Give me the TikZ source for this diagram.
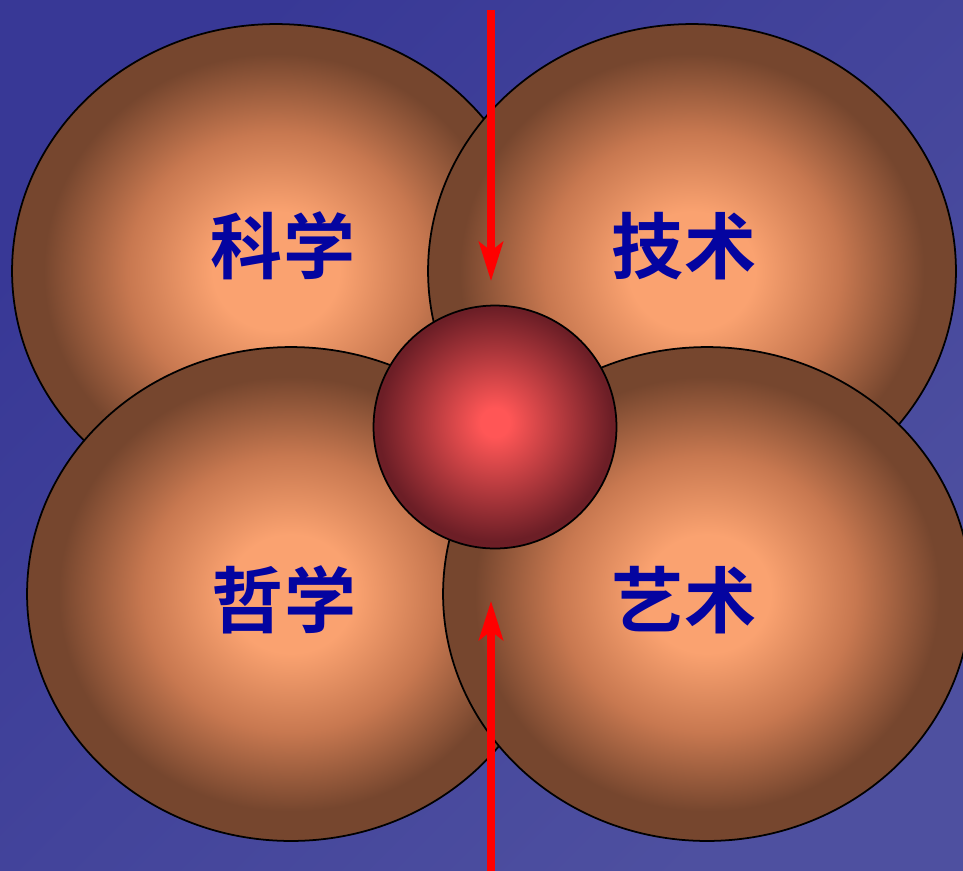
\documentclass[tikz,border=0pt]{standalone}
\usepackage{fontspec}
\newfontfamily\cjk[BoldFont={Noto Sans CJK SC Bold}]{Noto Sans CJK SC}
\usepackage{tikz}
\usetikzlibrary{shapes.geometric, arrows.meta, positioning, calc}
\usepackage{xcolor}
\definecolor{bgdark}{RGB}{56,56,150}
\definecolor{bglight}{RGB}{78,80,160}
\definecolor{lobelight}{RGB}{250,162,112}
\definecolor{lobemid}{RGB}{200,120,80}
\definecolor{lobedark}{RGB}{118,70,46}
\definecolor{corelight}{RGB}{255,86,86}
\definecolor{coredark}{RGB}{108,30,38}
\definecolor{labelblue}{RGB}{4,4,160}
\pgfdeclareradialshading{lobeshade}{\pgfpoint{0bp}{0bp}}{color(0bp)=(lobelight); color(6bp)=(lobelight); color(14bp)=(lobemid); color(22bp)=(lobedark); color(50bp)=(lobedark)}
\pgfdeclareradialshading{coreshade}{\pgfpoint{0bp}{1bp}}{color(0bp)=(corelight); color(3bp)=(corelight); color(24bp)=(coredark); color(50bp)=(coredark)}
\tikzstyle{lobe} = [ellipse, draw=black, line width=1pt, shading=lobeshade, minimum width=10.56cm, minimum height=9.88cm, inner sep=0pt]
\tikzstyle{core} = [circle, draw=black, line width=1pt, shading=coreshade, minimum size=4.86cm, inner sep=0pt]
\tikzstyle{field} = [text=labelblue, font=\cjk\bfseries\fontsize{41}{41}\selectfont]
\tikzstyle{push} = [line width=4pt, red, -{Stealth[length=0.78cm, width=0.48cm, inset=0.18cm]}]

\begin{document}
\begin{tikzpicture}[x=0.02cm, y=-0.02cm]
    % background
    \shade[top color=bgdark, bottom color=bglight, shading angle=45] (0,0) rectangle (963,870);
    \useasboundingbox (0,0) rectangle (963,870);

    % four fields
    \node (science) [lobe] at (276,271) {};
    \node (tech) [lobe] at (692,271) {};
    \node (philo) [lobe] at (291,594) {};
    \node (art) [lobe] at (707,594) {};
    \node (core) [core] at (495,427) {};

    \node (lsci) [field] at (283,246) {科学};
    \node (ltech) [field] at (684,246) {技术};
    \node (lphilo) [field] at (284,600) {哲学};
    \node (lart) [field] at (684,600) {艺术};

    % arrows toward the core
    \coordinate (topin) at (491,10);
    \coordinate (topend) at (491,281);
    \coordinate (botin) at (491,872);
    \coordinate (botend) at (491,601);
    \draw [push] (topin) -- (topend);
    \draw [push] (botin) -- (botend);
\end{tikzpicture}
\end{document}
